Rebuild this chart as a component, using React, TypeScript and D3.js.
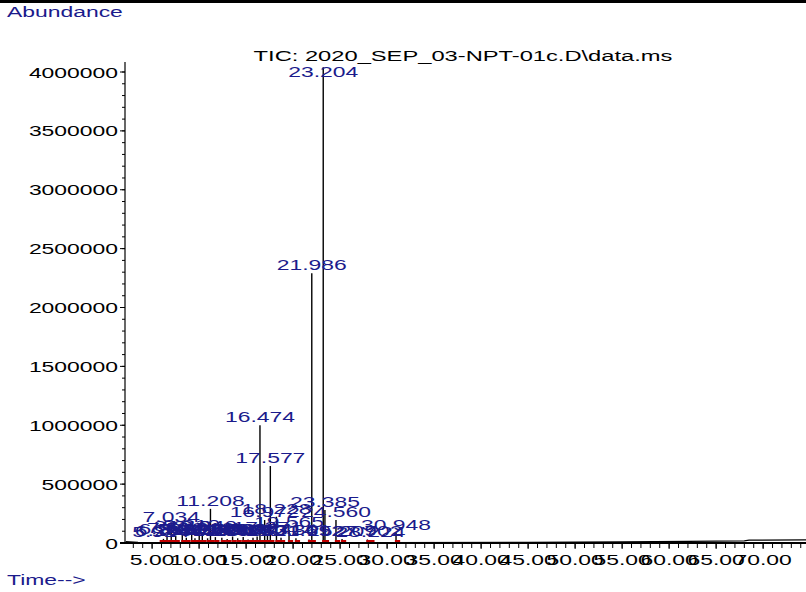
import React from 'react';
import * as d3 from 'd3';

const peakTimes = [5.924, 6.208, 6.588, 7.034, 7.512, 8.21, 8.64, 9.21, 9.56, 10.012, 10.34, 10.902, 11.208, 11.731, 12.418, 12.986, 13.562, 14.104, 14.69, 15.211, 15.733, 16.174, 16.474, 16.972, 17.271, 17.577, 18.228, 18.714, 19.565, 20.301, 21.692, 21.986, 23.204, 23.385, 24.56, 25.207, 27.902, 28.224, 30.948];
const peakHeights = [22000, 35000, 55000, 150000, 60000, 80000, 45000, 85000, 40000, 60000, 75000, 40000, 290000, 50000, 45000, 35000, 55000, 40000, 50000, 30000, 45000, 55000, 1000000, 195000, 70000, 654000, 223000, 45000, 110000, 40000, 30000, 2290000, 4040000, 280000, 195000, 35000, 30000, 25000, 85000];

// slow baseline drift of the trace
const baseTimes = [2.2, 3.5, 5, 30, 45, 55, 62, 68, 68.5, 74.6];
const baseValues = [12000, 6000, 4000, 4000, 6000, 9000, 14000, 18000, 24000, 27000];

const yMajor = [0, 500000, 1000000, 1500000, 2000000, 2500000, 3000000, 3500000, 4000000];
const xMajor = [5, 10, 15, 20, 25, 30, 35, 40, 45, 50, 55, 60, 65, 70];

const W = 806;
const H = 592;
const SX = 1.58;
const FONT = '"Liberation Sans", Arial, sans-serif';
const NAVY = '#1b1b8c';

function T({ x, y, anchor = 'start', fill = '#000', size = 14.5, children }: any) {
  return (
    <text transform={`translate(${x},${y}) scale(${SX},1)`} textAnchor={anchor} fill={fill}
      fontSize={size} fontFamily={FONT}>{children}</text>
  );
}

export default function App() {
  const x = d3.scaleLinear().domain([2.117, 74.56]).range([125, 806]);
  const y = d3.scaleLinear().domain([0, 4000000]).range([543, 72]);

  const yMinor = d3.range(0, 4000001, 100000);
  const xMinor = d3.range(3, 75, 1);

  const base = d3.line<number>()
    .x((_, i) => x(baseTimes[i]))
    .y(d => y(d))(baseValues);

  return (
    <div>
      <style>{'body{margin:0}'}</style>
      <svg width={W} height={H} style={{ display: 'block', background: '#fff' }}>
        <rect x={0} y={0} width={W} height={3} fill="#000" />
        <T x={7} y={17} fill={NAVY}>Abundance</T>
        <T x={7} y={585} fill={NAVY}>Time--&gt;</T>
        <T x={463} y={61} anchor="middle" size={15}>TIC: 2020_SEP_03-NPT-01c.D\data.ms</T>

        {/* y axis */}
        <line x1={125} x2={125} y1={62} y2={543} stroke="#000" strokeWidth={1.2} />
        {yMinor.map(v => (
          <line key={'ym' + v} x1={122} x2={125} y1={y(v)} y2={y(v)} stroke="#000" strokeWidth={1} />
        ))}
        {yMajor.map(v => (
          <g key={'yM' + v}>
            <line x1={120} x2={125} y1={y(v)} y2={y(v)} stroke="#000" strokeWidth={1} />
            <T x={118} y={y(v) + 5.5} anchor="end">{String(v)}</T>
          </g>
        ))}

        {/* x axis */}
        <line x1={120} x2={W} y1={543} y2={543} stroke="#000" strokeWidth={2} />
        {xMinor.map(v => (
          <line key={'xm' + v} x1={x(v)} x2={x(v)} y1={543} y2={548} stroke="#000" strokeWidth={1} />
        ))}
        {xMajor.map(v => (
          <g key={'xM' + v}>
            <line x1={x(v)} x2={x(v)} y1={543} y2={549} stroke="#000" strokeWidth={1} />
            <T x={x(v)} y={565} anchor="middle">{v.toFixed(2)}</T>
          </g>
        ))}

        {/* trace */}
        <path d={base ?? ''} fill="none" stroke="#000" strokeWidth={1.3} />
        {peakTimes.map((t, i) => (
          <line key={'p' + i} x1={x(t)} x2={x(t)} y1={y(0)} y2={y(peakHeights[i])} stroke="#000" strokeWidth={1.4} />
        ))}
        {peakTimes.map((t, i) => (
          <g key={'r' + i}>
            <line x1={x(t - 0.12)} x2={x(t - 0.12) + 3} y1={541} y2={541} stroke="#c00000" strokeWidth={2} />
            <line x1={x(t + 0.12)} x2={x(t + 0.12) + 3} y1={541} y2={541} stroke="#c00000" strokeWidth={2} />
          </g>
        ))}
        {peakTimes.map((t, i) => (
          <T key={'l' + i} x={x(t)} y={Math.max(77, y(peakHeights[i]) - 3)} anchor="middle" fill={NAVY}>
            {t.toFixed(3)}
          </T>
        ))}
      </svg>
    </div>
  );
}
